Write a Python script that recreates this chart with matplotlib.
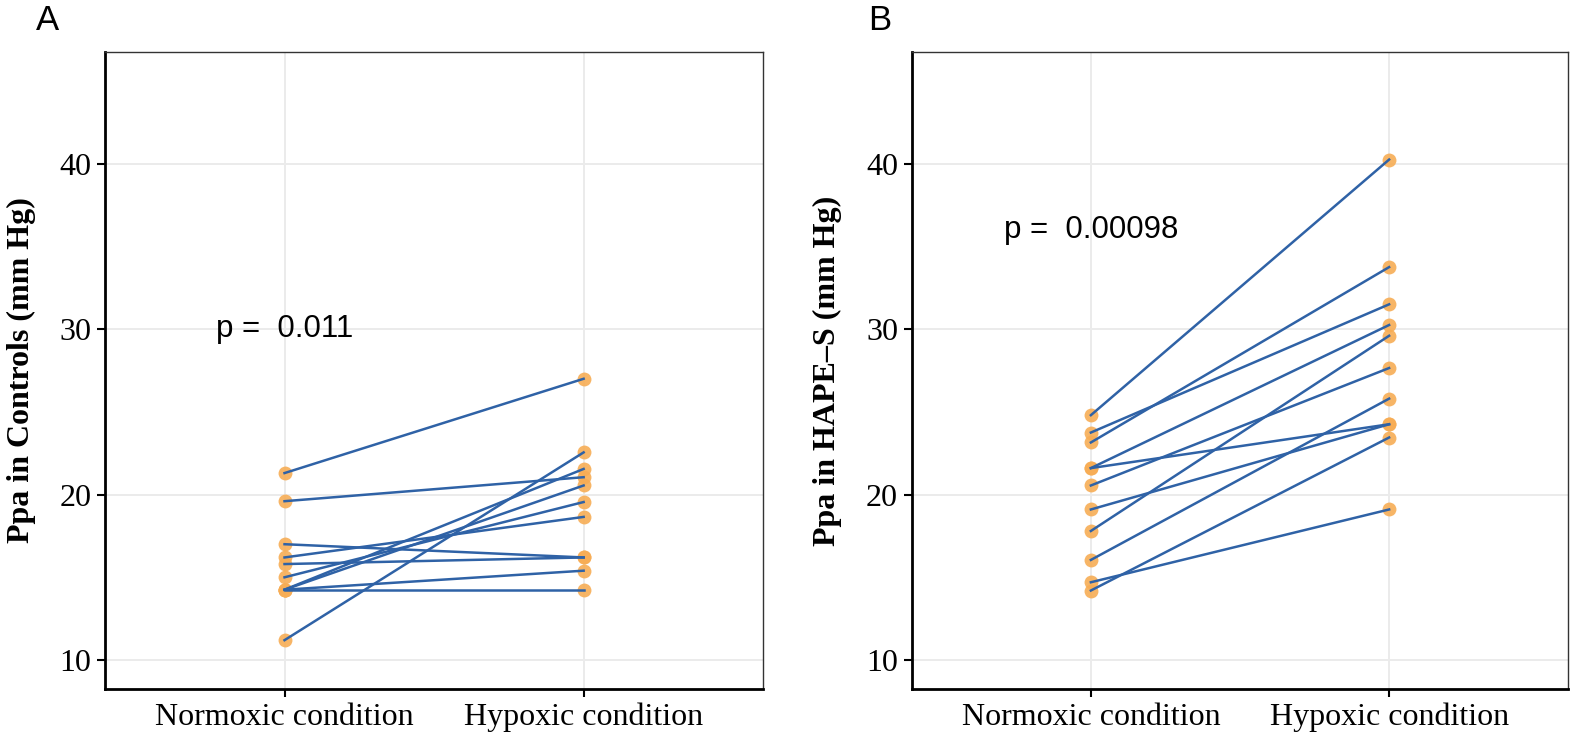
import numpy as np
import matplotlib.pyplot as plt

# paired Ppa values (mm Hg), one entry per subject
ctrl_normoxic = [21.3, 19.6, 17.0, 16.2, 15.8, 15.0, 14.25, 14.25, 14.25, 14.25, 11.2]
ctrl_hypoxic = [27.0, 21.05, 16.2, 18.65, 16.2, 19.55, 14.25, 15.4, 20.55, 21.55, 22.55]

hape_normoxic = [24.8, 23.75, 23.15, 21.6, 21.6, 20.55, 19.1, 17.8, 16.05, 14.7, 14.2]
hape_hypoxic = [40.25, 31.5, 33.75, 30.25, 24.25, 27.65, 24.25, 29.6, 25.8, 19.1, 23.45]

conditions = ["Normoxic condition", "Hypoxic condition"]
p_values = ["p =  0.011", "p =  0.00098"]
ylabels = ["Ppa in Controls (mm Hg)", "Ppa in HAPE\u2013S (mm Hg)"]
panel_tags = ["A", "B"]
p_text_y = [30, 36]

line_color = "#2f62a6"
point_color = "#f7ad55"

fig = plt.figure(figsize=(15.75, 7.36), dpi=100)
axes = [fig.add_axes([0.0667, 0.0639, 0.4178, 0.8654]),
        fig.add_axes([0.5790, 0.0639, 0.4166, 0.8654])]

panels = [(ctrl_normoxic, ctrl_hypoxic), (hape_normoxic, hape_hypoxic)]

for i, ax in enumerate(axes):
    before, after = panels[i]
    x = np.array([1, 2])
    # dots first, connecting lines drawn over them
    for b, a in zip(before, after):
        ax.scatter(x, [b, a], s=100, color=point_color, alpha=0.9, zorder=3, linewidths=0)
    for b, a in zip(before, after):
        ax.plot(x, [b, a], color=line_color, lw=1.8, zorder=4)

    ax.set_xlim(0.4, 2.6)
    ax.set_ylim(8.25, 46.75)
    ax.set_xticks([1, 2])
    ax.set_xticklabels(conditions, family="Liberation Serif", fontsize=23)
    ax.set_yticks([10, 20, 30, 40])
    ax.set_yticklabels(["10", "20", "30", "40"], family="Liberation Serif", fontsize=23)
    ax.tick_params(length=6, width=1.5, color="black", pad=4)
    ax.grid(True, color="#ebebeb", lw=1.4, zorder=0)
    ax.set_axisbelow(True)

    for side in ["top", "right"]:
        ax.spines[side].set_color("#333333")
        ax.spines[side].set_linewidth(1.0)
    for side in ["left", "bottom"]:
        ax.spines[side].set_color("black")
        ax.spines[side].set_linewidth(2.0)

    ax.set_ylabel(ylabels[i], family="Liberation Serif", fontweight="bold", fontsize=23, labelpad=17)
    ax.text(1, p_text_y[i], p_values[i], ha="center", va="center",
            family="Liberation Sans", fontsize=22.5)

fig.text(47 / 1575, 1 - 21 / 736, panel_tags[0], ha="center", va="center",
         family="Liberation Sans", fontsize=25)
fig.text(880 / 1575, 1 - 21 / 736, panel_tags[1], ha="center", va="center",
         family="Liberation Sans", fontsize=25)

fig.savefig("out.png", dpi=100)
